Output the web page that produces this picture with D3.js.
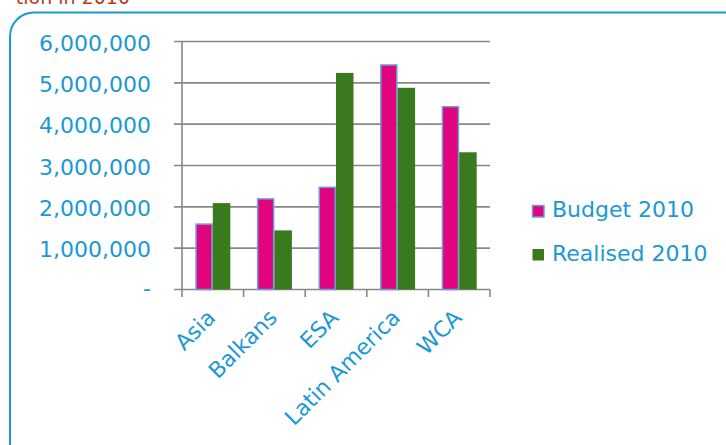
<!DOCTYPE html>
<html><head><meta charset="utf-8">
<script src="https://cdn.jsdelivr.net/npm/d3@7"></script>
<style>body{margin:0;background:#fff}svg{display:block}text{font-family:"DejaVu Sans",Verdana,sans-serif}</style>
</head><body>
<svg id="c" width="726" height="445"></svg>
<script>
const categories = ["Asia","Balkans","ESA","Latin America","WCA"];
const seriesNames = ["Budget 2010","Realised 2010"];
const budget2010 = [1600000, 2210000, 2490000, 5450000, 4440000];
const realised2010 = [2090000, 1430000, 5240000, 4880000, 3320000];
const yTicks = [0,1000000,2000000,3000000,4000000,5000000,6000000];
const titleFragment = "tion in 2010";

const svg = d3.select("#c");
const blue = "#1b98d5";
const colors = ["#e0047f","#3a7a1e"];
const values = [budget2010, realised2010];

// frame
svg.append("rect").attr("x",10).attr("y",12.5).attr("width",740).attr("height",460)
  .attr("rx",24).attr("fill","none").attr("stroke",blue).attr("stroke-width",2);
svg.append("text").attr("x",130).attr("y",4).attr("text-anchor","end")
  .attr("font-size",19).attr("fill","#b83a22").text(titleFragment);

const y = d3.scaleLinear().domain([0,6000000]).range([289.5,41.5]);
const x0 = d3.scaleBand().domain(categories).range([182,490]).padding(0);
const x1 = d3.scaleBand().domain(seriesNames).range([13.3, 48.3]).padding(0);

// gridlines
svg.append("g").selectAll("line").data(yTicks).join("line")
  .attr("x1",174).attr("x2",490).attr("y1",d=>y(d)).attr("y2",d=>y(d))
  .attr("stroke","#888").attr("stroke-width",1.6);

// y axis line
svg.append("line").attr("x1",182).attr("x2",182).attr("y1",y(6000000)).attr("y2",y(0))
  .attr("stroke","#888").attr("stroke-width",1.6);

// y labels
svg.append("g").selectAll("text").data(yTicks).join("text")
  .attr("x",151).attr("y",d=>y(d)+ (d===0?6:9))
  .attr("text-anchor","end").attr("font-size",22).attr("fill",blue)
  .text(d=>d===0?"-":d3.format(",")(d));

// x tick marks
const bounds = categories.map(c=>x0(c)).concat([x0.range()[1]]);
svg.append("g").selectAll("line").data(bounds).join("line")
  .attr("x1",d=>d).attr("x2",d=>d).attr("y1",y(0)).attr("y2",297)
  .attr("stroke","#888").attr("stroke-width",1.6);

// bars
seriesNames.forEach((s,si)=>{
  svg.append("g").selectAll("rect").data(categories).join("rect")
    .attr("x",(c)=>x0(c)+x1(s)+(si===0?0.75:0))
    .attr("width",x1.bandwidth()-(si===0?1.5:0))
    .attr("y",(c,i)=>y(values[si][i])+(si===0?0.75:0))
    .attr("height",(c,i)=>y(0)-y(values[si][i])-(si===0?0.75:0))
    .attr("fill",colors[si])
    .attr("stroke",si===0?"#6b9ed9":"none").attr("stroke-width",1.5);
});

// x labels
svg.append("g").selectAll("text").data(categories).join("text")
  .attr("transform",c=>`translate(${x0(c)+x0.bandwidth()/2+4},319) rotate(-45)`)
  .attr("text-anchor","end").attr("font-size",22).attr("fill",blue).text(c=>c);

// legend
const leg = svg.append("g");
seriesNames.forEach((s,i)=>{
  const ly = 205 + i*43.5;
  leg.append("rect").attr("x",532.5).attr("y",ly+0.5).attr("width",11.5).attr("height",11.5)
    .attr("fill",colors[i]).attr("stroke",i===0?"#6b9ed9":"none").attr("stroke-width",1.5);
  leg.append("text").attr("x",552).attr("y",ly+12).attr("font-size",22).attr("fill",blue).text(s);
});
</script>
</body></html>
